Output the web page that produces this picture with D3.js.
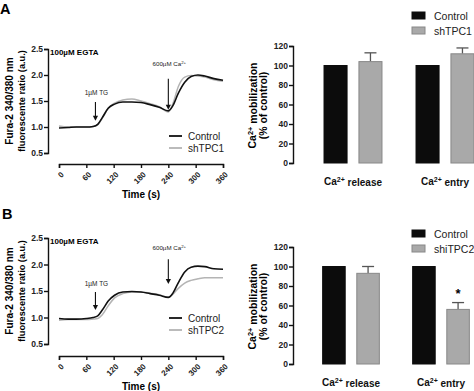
<!DOCTYPE html>
<html><head><meta charset="utf-8">
<script src="https://cdn.jsdelivr.net/npm/d3@7"></script>
<style>
body{margin:0;background:#fff;}
svg{display:block;font-family:"Liberation Sans",Arial,sans-serif;}
</style></head>
<body>
<svg id="c" width="474" height="391"></svg>
<script>
// ---------- data ----------
const times = [0, 20, 38, 60, 75, 85, 95, 108, 122, 140, 160, 180, 200, 220, 240, 250, 262, 276, 290, 305, 320, 340, 360];
const controlA = [0.98, 0.99, 1.0, 1.0, 1.01, 1.05, 1.18, 1.36, 1.44, 1.48, 1.48, 1.47, 1.43, 1.38, 1.31, 1.41, 1.65, 1.86, 1.97, 2.0, 1.98, 1.93, 1.90];
const shTPC1A  = [1.02, 1.0, 1.0, 1.0, 1.01, 1.04, 1.17, 1.36, 1.46, 1.52, 1.54, 1.5, 1.45, 1.39, 1.29, 1.45, 1.78, 1.96, 1.99, 1.98, 1.96, 1.91, 1.88];
const controlB = [0.98, 0.97, 0.97, 0.98, 1.0, 1.03, 1.14, 1.31, 1.42, 1.48, 1.49, 1.48, 1.45, 1.42, 1.38, 1.46, 1.66, 1.86, 1.95, 1.97, 1.96, 1.92, 1.91];
const shTPC2B  = [0.95, 0.96, 0.96, 0.96, 0.97, 0.98, 1.05, 1.22, 1.37, 1.45, 1.48, 1.48, 1.46, 1.43, 1.38, 1.44, 1.55, 1.65, 1.70, 1.73, 1.75, 1.75, 1.75];
const xTicks = [0, 60, 120, 180, 240, 300, 360];
const yTicksLine = [0.5, 1.0, 1.5, 2.0, 2.5];
const yTicksBar = [0, 20, 40, 60, 80, 100, 120];
const groups = ["release", "entry"];
const releaseA = [100, 104], releaseErrA = [0, 9];
const entryA   = [100, 112], entryErrA   = [0, 6];
const releaseB = [100, 93],  releaseErrB = [0, 7];
const entryB   = [100, 56],  entryErrB   = [0, 7];
const seriesA = ["Control", "shTPC1"];
const seriesB = ["Control", "shiTPC2"];
const lineSeriesB = ["Control", "shTPC2"];

const svg = d3.select("#c");
const FONT = '"Liberation Sans",Arial,sans-serif';
const BLACK = "#111", GRAY = "#b4b4b4", BARGRAY = "#a9a9a9";

function sup(sel, before, s, after) {
  sel.append("tspan").text(before);
  sel.append("tspan").attr("dy", "-0.45em").attr("font-size", "0.7em").text(s);
  sel.append("tspan").attr("dy", "0.45em").text(after);
}

function lineChart(o) {
  const g = svg.append("g");
  const x = d3.scaleLinear().domain([0, 360]).range([59, 223]);
  const y = d3.scaleLinear().domain([0.5, 2.5]).range([o.y0, o.y1]);
  const ya = g.append("g").attr("transform", "translate(48,0)")
    .call(d3.axisLeft(y).tickValues(yTicksLine).tickFormat(d3.format(".1f")).tickSizeOuter(0).tickSize(4));
  const xa = g.append("g").attr("transform", `translate(0,${o.xAxisY})`)
    .call(d3.axisBottom(x).tickValues(xTicks).tickSizeOuter(0).tickSize(4));
  [ya, xa].forEach(a => {
    a.selectAll("path,line").attr("stroke", "#111").attr("stroke-width", 1.4);
    a.selectAll("text").attr("font-family", FONT).attr("font-weight", "bold").attr("font-size", 8.5).attr("fill", "#222");
  });
  ya.selectAll("text").attr("x", -5);
  xa.selectAll("text").attr("x", 0).attr("y", 0).attr("dy", "0.35em").attr("text-anchor", "end")
    .attr("font-size", 8).attr("transform", "translate(3,9) rotate(-45)");
  g.append("text").attr("x", 141).attr("y", o.xAxisY + 34).attr("text-anchor", "middle")
    .attr("font-weight", "bold").attr("font-size", 10).text("Time (s)");
  const cy = (o.y0 + o.y1) / 2;
  g.append("text").attr("transform", `translate(13,${cy}) rotate(-90)`).attr("text-anchor", "middle")
    .attr("font-weight", "bold").attr("font-size", 10).text("Fura-2 340/380 nm");
  g.append("text").attr("transform", `translate(25,${cy}) rotate(-90)`).attr("text-anchor", "middle")
    .attr("font-weight", "bold").attr("font-size", 9.2).text("fluorescente ratio (a.u.)");
  const line = d3.line().x((d, i) => x(times[i])).y(d => y(d)).curve(d3.curveMonotoneX);
  g.append("path").datum(o.s2).attr("d", line).attr("fill", "none").attr("stroke", GRAY).attr("stroke-width", 1.5);
  g.append("path").datum(o.s1).attr("d", line).attr("fill", "none").attr("stroke", BLACK).attr("stroke-width", 1.6);
  g.append("text").attr("x", 50).attr("y", y(2.5) + 6).attr("font-weight", "bold").attr("font-size", 8).text("100µM EGTA");
  const arrow = (t, v0, v1) => {
    const ax = x(t);
    g.append("line").attr("x1", ax).attr("x2", ax).attr("y1", y(v0)).attr("y2", y(v1) - 4)
      .attr("stroke", "#111").attr("stroke-width", 1.1);
    g.append("path").attr("d", `M${ax - 2.6},${y(v1) - 5}L${ax + 2.6},${y(v1) - 5}L${ax},${y(v1)}Z`).attr("fill", "#111");
  };
  arrow(80, o.tg[0], o.tg[1]);
  arrow(240, o.ca[0], o.ca[1]);
  g.append("text").attr("x", x(80) + 1).attr("y", y(o.tg[2])).attr("text-anchor", "middle")
    .attr("font-size", 6.5).attr("fill", "#222").text("1µM TG");
  const ct = g.append("text").attr("x", x(240) + 1).attr("y", y(o.ca[2])).attr("text-anchor", "middle")
    .attr("font-size", 6.2).attr("fill", "#222");
  sup(ct, "600µM Ca", "2+", "");
  o.names.forEach((n, i) => {
    const ly = o.legY + i * 12;
    g.append("line").attr("x1", 169).attr("x2", 182).attr("y1", ly).attr("y2", ly)
      .attr("stroke", i ? GRAY : BLACK).attr("stroke-width", 1.8);
    g.append("text").attr("x", 188).attr("y", ly + 3.5).attr("font-size", 10).attr("fill", "#222").text(n);
  });
}

function barChart(o) {
  const g = svg.append("g");
  const y = d3.scaleLinear().domain([0, 120]).range([o.y0, o.y1]);
  const x0 = d3.scaleBand().domain(groups).range(o.xr).paddingInner(0.37).paddingOuter(0.185);
  const x1 = d3.scaleBand().domain(o.names).range([0, x0.bandwidth()]).paddingInner(0.34);
  const ya = g.append("g").attr("transform", "translate(293,0)")
    .call(d3.axisLeft(y).tickValues(yTicksBar).tickSizeOuter(0).tickSize(4));
  ya.selectAll("path,line").attr("stroke", "#111").attr("stroke-width", 1.4);
  ya.selectAll("text").attr("x", -5).attr("font-family", FONT).attr("font-weight", "bold").attr("font-size", 8.5).attr("fill", "#222");
  const data = [
    {grp: "release", vals: o.rel, errs: o.relErr},
    {grp: "entry", vals: o.ent, errs: o.entErr}
  ];
  data.forEach(dd => {
    o.names.forEach((n, i) => {
      const bx = x0(dd.grp) + x1(n);
      const v = dd.vals[i], e = dd.errs[i];
      if (e > 0) {
        const cx = bx + x1.bandwidth() / 2;
        g.append("line").attr("x1", cx).attr("x2", cx).attr("y1", y(v)).attr("y2", y(v + e)).attr("stroke", "#555").attr("stroke-width", 1.3);
        g.append("line").attr("x1", cx - 6).attr("x2", cx + 6).attr("y1", y(v + e)).attr("y2", y(v + e)).attr("stroke", "#555").attr("stroke-width", 1.3);
      }
      g.append("rect").attr("x", bx).attr("y", y(v)).attr("width", x1.bandwidth()).attr("height", y(0) - y(v))
        .attr("fill", i ? BARGRAY : "#0c0c0c").attr("stroke", i ? "#888" : "#0c0c0c").attr("stroke-width", 1);
    });
    const lbl = g.append("text").attr("x", x0(dd.grp) + x0.bandwidth() / 2).attr("y", o.y0 + 22)
      .attr("text-anchor", "middle").attr("font-weight", "bold").attr("font-size", 10).attr("fill", "#111");
    sup(lbl, "Ca", "2+", dd.grp === "release" ? " release" : " entry");
  });
  if (o.star) {
    const cx = x0("entry") + x1(o.names[1]) + x1.bandwidth() / 2;
    g.append("text").attr("x", cx).attr("y", y(o.ent[1] + o.entErr[1]) - 5).attr("text-anchor", "middle")
      .attr("font-weight", "bold").attr("font-size", 13).text("*");
  }
  const cy = (o.y0 + o.y1) / 2 + 1;
  const t1 = g.append("text").attr("transform", `translate(256,${cy}) rotate(-90)`).attr("text-anchor", "middle")
    .attr("font-weight", "bold").attr("font-size", 10.5);
  sup(t1, "Ca", "2+", " mobilization");
  g.append("text").attr("transform", `translate(267,${cy}) rotate(-90)`).attr("text-anchor", "middle")
    .attr("font-weight", "bold").attr("font-size", 10.5).text("(% of control)");
  o.names.forEach((n, i) => {
    const ly = o.legY + i * 15;
    g.append("rect").attr("x", 412).attr("y", ly).attr("width", 13).attr("height", 7)
      .attr("fill", i ? BARGRAY : "#0c0c0c").attr("stroke", i ? "#888" : "#0c0c0c");
    g.append("text").attr("x", 434).attr("y", ly + 7.5).attr("font-size", 10.5).attr("fill", "#222").text(n);
  });
}

lineChart({y0: 153, y1: 49, xAxisY: 164, s1: controlA, s2: shTPC1A, names: ["Control", "shTPC1"],
  tg: [1.48, 1.12, 1.62], ca: [1.93, 1.33, 2.17], legY: 136});
lineChart({y0: 344, y1: 238, xAxisY: 356, s1: controlB, s2: shTPC2B, names: lineSeriesB,
  tg: [1.48, 1.14, 1.6], ca: [2.1, 1.63, 2.27], legY: 318});
barChart({y0: 163, y1: 46, xr: [307, 491], names: seriesA, rel: releaseA, relErr: releaseErrA, ent: entryA, entErr: entryErrA, legY: 12});
barChart({y0: 364, y1: 247, xr: [306, 486], names: seriesB, rel: releaseB, relErr: releaseErrB, ent: entryB, entErr: entryErrB, legY: 230, star: true});

svg.append("text").attr("x", 0).attr("y", 14).attr("font-weight", "bold").attr("font-size", 14.5).text("A");
svg.append("text").attr("x", 2).attr("y", 219).attr("font-weight", "bold").attr("font-size", 14.5).text("B");
</script>
</body></html>
